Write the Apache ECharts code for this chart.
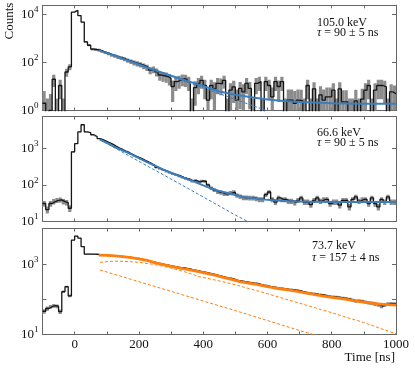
<!DOCTYPE html>
<html><head><meta charset="utf-8">
<script src="https://cdn.jsdelivr.net/npm/echarts@6/dist/echarts.min.js"></script>
<style>html,body{margin:0;padding:0;background:#fff}#c{width:415px;height:371px}</style>
</head><body><div id="c"></div>
<script>
// ---------- data ----------
const binStart = -100, binWidth = 10;
const xTicks = [-100,0,100,200,300,400,500,600,700,800,900,1000];
const xLabels = [0,200,400,600,800,1000];
const yTicks1 = [1,100,10000];
const yTicks2 = [10,100,1000];
const yLabels3 = [10,1000];
const yTicks3 = [10,100,1000];

const counts1 = [2,0,1,20,0,11,0,40,66,12500,15000,9000,4800,720,520,360,345,330,290,260,
 235,205,190,168,155,138,122,110,98,90,82,72,62,48,52,41,30,28,26,22,
 10,16,18,21,20,16,0,9,13.5,18,11,2.7,11,8,13.5,13,18,0,7,9.7,
 2.7,8.3,6,13.5,8.3,0,13.5,16,0,16,11,3.7,16,10,16,0,2.7,2.7,2,2.7,
 2.5,0,11,0,8,0,4.5,2.7,3.7,3.7,7,0,8,2.3,2.3,0,0,2.5,0,3,
 7,11,0,7,11,11,9.7,0,6,5];
const counts2 = [31,21,31,35,38,39,35,33,23,800,1340,2800,4400,2800,2700,2350,2100,1850,1700,1560,
 1420,1280,1130,1010,930,840,770,690,620,570,520,470,430,385,345,300,275,255,235,215,
 200,188,176,162,150,142,128,132,120,128,125,100,82,72,64,62,57,57,60,64,
 52,48,45,45,44,44,42,40,40,54,64,40,34,44,40,40,36,36,33,38,
 44,34,34,29,38,44,36,40,40,31,34,34,28,38,38,25,40,47,36,40,
 40,31,44,31,25,40,34,47,34,34];
const counts3 = [46,55,62,66,64,45,166,230,126,4900,6400,5600,3200,1950,1950,1950,1940,1900,1840,1830,
 1800,1760,1720,1710,1680,1640,1620,1560,1500,1470,1400,1340,1270,1200,1150,1080,1050,1000,960,900,
 880,840,810,800,770,740,700,670,640,610,590,560,530,505,480,455,430,410,395,370,
 345,335,320,310,300,292,285,270,255,245,232,225,218,210,205,198,190,190,185,178,
 170,160,152,148,145,138,136,132,124,120,118,116,112,108,106,102,95,90,92,88,
 84,80,78,74,70,64,70,74,76,75];

const fit1 = [[75,320],[100,245],[125,190],[150,145],[175,110],[200,82],[225,62],[250,48],[275,37],[300,28],[325,22],[350,17],[375,13.5],[400,10.5],[450,6.2],[500,4.5],[550,3.6],[600,2.9],[650,2.5],[700,2.25],[800,2.0],[900,1.92],[1000,1.9]];
const dash1 = [[75,320],[200,78],[300,26],[400,8.7],[500,2.9],[600,0.95]];
const fit2 = [[78,1740],[100,1410],[125,1080],[150,870],[175,690],[200,540],[225,420],[250,335],[275,265],[300,215],[325,175],[350,145],[375,120],[400,97],[425,80],[450,68],[475,60],[500,53],[525,47],[550,44],[600,39],[650,36.5],[700,35],[800,34],[1000,34]];
const dash2 = [[78,1740],[200,440],[300,145],[400,47],[500,15],[560,8]];
const fit3 = [[75,1840],[100,1800],[125,1740],[150,1650],[175,1550],[200,1430],[225,1290],[255,1080],[280,960],[307,850],[333,765],[359,690],[385,620],[411,555],[436,490],[462,425],[488,370],[514,322],[540,292],[566,268],[592,240],[618,215],[644,198],[670,183],[696,166],[722,150],[748,137],[774,125],[800,115],[825,107],[851,98],[877,90],[903,83],[929,77],[960,72],[1000,69]];
const dash3a = [[79,1140],[105,1200],[130,1230],[155,1220],[180,1180],[210,1110],[245,1000],[275,880],[300,780],[338,630],[390,440],[421,385],[460,320],[500,262],[550,195],[600,145],[650,106],[700,78],[750,57],[800,42],[850,30],[900,22],[950,15],[1000,10.5]];
const dash3b = [[79,690],[200,320],[300,170],[400,90],[500,48],[600,25],[700,13],[760,9]];

const labels = [
  ['105.0 keV','90 ± 5 ns'],
  ['66.6 keV','90 ± 5 ns'],
  ['73.7 keV','157 ± 4 ns']
];
// error band scale (counts -> uncertainty)
const errScale = [5, 1, 1];
const errOffset = [2, 0, 0];

// ---------- layout ----------
const FONT = '"Liberation Serif","DejaVu Serif",serif';
const FRAME = '#666';
const BLUE = '#3b7ebe', ORANGE = '#ff7f0e';
const grids = [
  {left:42.5, right:19, top:5.3, height:105.2},
  {left:42.5, right:19, top:116.5, height:105},
  {left:42.5, right:19, top:228.5, height:106}
];
const yRanges = [[1,24000],[10,7400],[10,10500]];
const yTickSets = [yTicks1, yTicks2, yTicks3];
const yLabelSets = [yTicks1, yTicks2, yLabels3];

function powLabel(v){
  const e = Math.round(Math.log10(v));
  return '{b|10}{s|' + e + '}';
}
const xAxes = [], yAxes = [];
for (let i = 0; i < 3; i++) {
  const last = i === 2;
  ['bottom','top'].forEach((pos, k) => {
    xAxes.push({
      type:'value', gridIndex:i, position:pos, min:-100, max:1000,
      axisLine:{show:true, onZero:false, lineStyle:{color:FRAME, width:1}},
      axisTick:{show:true, inside:true, length:3, lineStyle:{color:FRAME}, customValues:xTicks},
      axisLabel:{show: last && k === 0, customValues:xLabels, formatter: v => String(v),
        fontFamily:FONT, fontSize:13, color:'#111', margin:4},
      splitLine:{show:false}
    });
  });
  ['left','right'].forEach((pos, k) => {
    yAxes.push({
      type:'log', gridIndex:i, position:pos, min:yRanges[i][0], max:yRanges[i][1],
      axisLine:{show:true, onZero:false, lineStyle:{color:FRAME, width:1}},
      axisTick:{show:true, inside:true, length:4, lineStyle:{color:FRAME}, customValues:yTickSets[i]},
      axisLabel:{show:k === 0, customValues:yLabelSets[i], formatter:powLabel, margin:4, color:'#111',
        rich:{b:{fontFamily:FONT, fontSize:13, lineHeight:18, color:'#111'},
              s:{fontFamily:FONT, fontSize:9, lineHeight:10, verticalAlign:'top', color:'#111'}}},
      splitLine:{show:false}, minorTick:{show:false}
    });
  });
}

function histPoints(counts, floor){
  const pts = counts.map((v,i) => [binStart + i*binWidth, v > 0 ? v : floor]);
  pts.push([binStart + counts.length*binWidth, pts[pts.length-1][1]]);
  return pts;
}
function bandData(counts, idx, floor){
  return counts.map((v,i) => {
    const e = Math.sqrt((v + errOffset[idx]) * errScale[idx]);
    return [binStart + i*binWidth, Math.max(v - e, floor), v + e];
  });
}
function renderBand(params, api){
  const x0 = api.value(0), lo = api.value(1), hi = api.value(2);
  const p1 = api.coord([x0, hi]);
  const p2 = api.coord([x0 + binWidth, lo]);
  const cs = params.coordSys;
  const r = echarts.graphic.clipRectByRect(
    {x:p1[0], y:p1[1], width:p2[0]-p1[0], height:p2[1]-p1[1]},
    {x:cs.x, y:cs.y, width:cs.width, height:cs.height});
  return r && {type:'rect', shape:r, style:{fill:'#8c8c8c'}};
}

const allCounts = [counts1, counts2, counts3];
const series = [];
for (let i = 0; i < 3; i++) {
  const floor = yRanges[i][0] / 100;
  series.push({type:'custom', xAxisIndex:2*i, yAxisIndex:2*i, renderItem:renderBand,
    data:bandData(allCounts[i], i, floor), encode:{x:0, y:[1,2]}, clip:true, z:1, silent:true});
  series.push({type:'line', xAxisIndex:2*i, yAxisIndex:2*i, step:'end', showSymbol:false, symbol:'none',
    data:histPoints(allCounts[i], floor), clip:true, z:2,
    lineStyle:{color:'#151515', width:1.3}});
}
function fitLine(i, data, color, width, dashed){
  return {type:'line', xAxisIndex:2*i, yAxisIndex:2*i, data, smooth:false,
    showSymbol:false, symbol:'none', clip:true, z: dashed ? 3 : 4,
    lineStyle:{color, width, type: dashed ? [3,2] : 'solid', join:'round'}};
}
series.push(fitLine(0, dash1, BLUE, 1, true));
series.push(fitLine(0, fit1, BLUE, 2, false));
series.push(fitLine(1, dash2, BLUE, 1, true));
series.push(fitLine(1, fit2, BLUE, 2, false));
series.push(fitLine(2, dash3a, ORANGE, 1, true));
series.push(fitLine(2, dash3b, ORANGE, 1, true));
series.push(fitLine(2, fit3, ORANGE, 2.8, false));

const textPos = [[317,22.7,33.3],[317,132.7,143.3],[312,245.7,257.7]];
const graphic = [];
labels.forEach((l, i) => {
  const p = textPos[i];
  graphic.push({type:'text', x:p[0], y:p[1], style:{text:l[0], font:'12px ' + FONT, fill:'#111', verticalAlign:'middle', align:'left'}});
  graphic.push({type:'text', x:p[0], y:p[2], style:{text:'{i|τ} = ' + l[1], font:'12px ' + FONT, fill:'#111', verticalAlign:'middle', align:'left',
    rich:{i:{fontFamily:FONT, fontSize:12, fontStyle:'italic', fill:'#111'}}}});
});
graphic.push({type:'text', x:10, y:21, rotation:Math.PI/2, style:{text:'Counts', font:'13px ' + FONT, fill:'#111', align:'center', verticalAlign:'middle'}});
graphic.push({type:'text', x:395, y:358, style:{text:'Time [ns]', font:'13px ' + FONT, fill:'#111', align:'right', verticalAlign:'middle'}});

const chart = echarts.init(document.getElementById('c'), null, {renderer:'canvas'});
chart.setOption({
  animation:false, backgroundColor:'#fff',
  grid:grids, xAxis:xAxes, yAxis:yAxes, series, graphic
});
</script></body></html>
